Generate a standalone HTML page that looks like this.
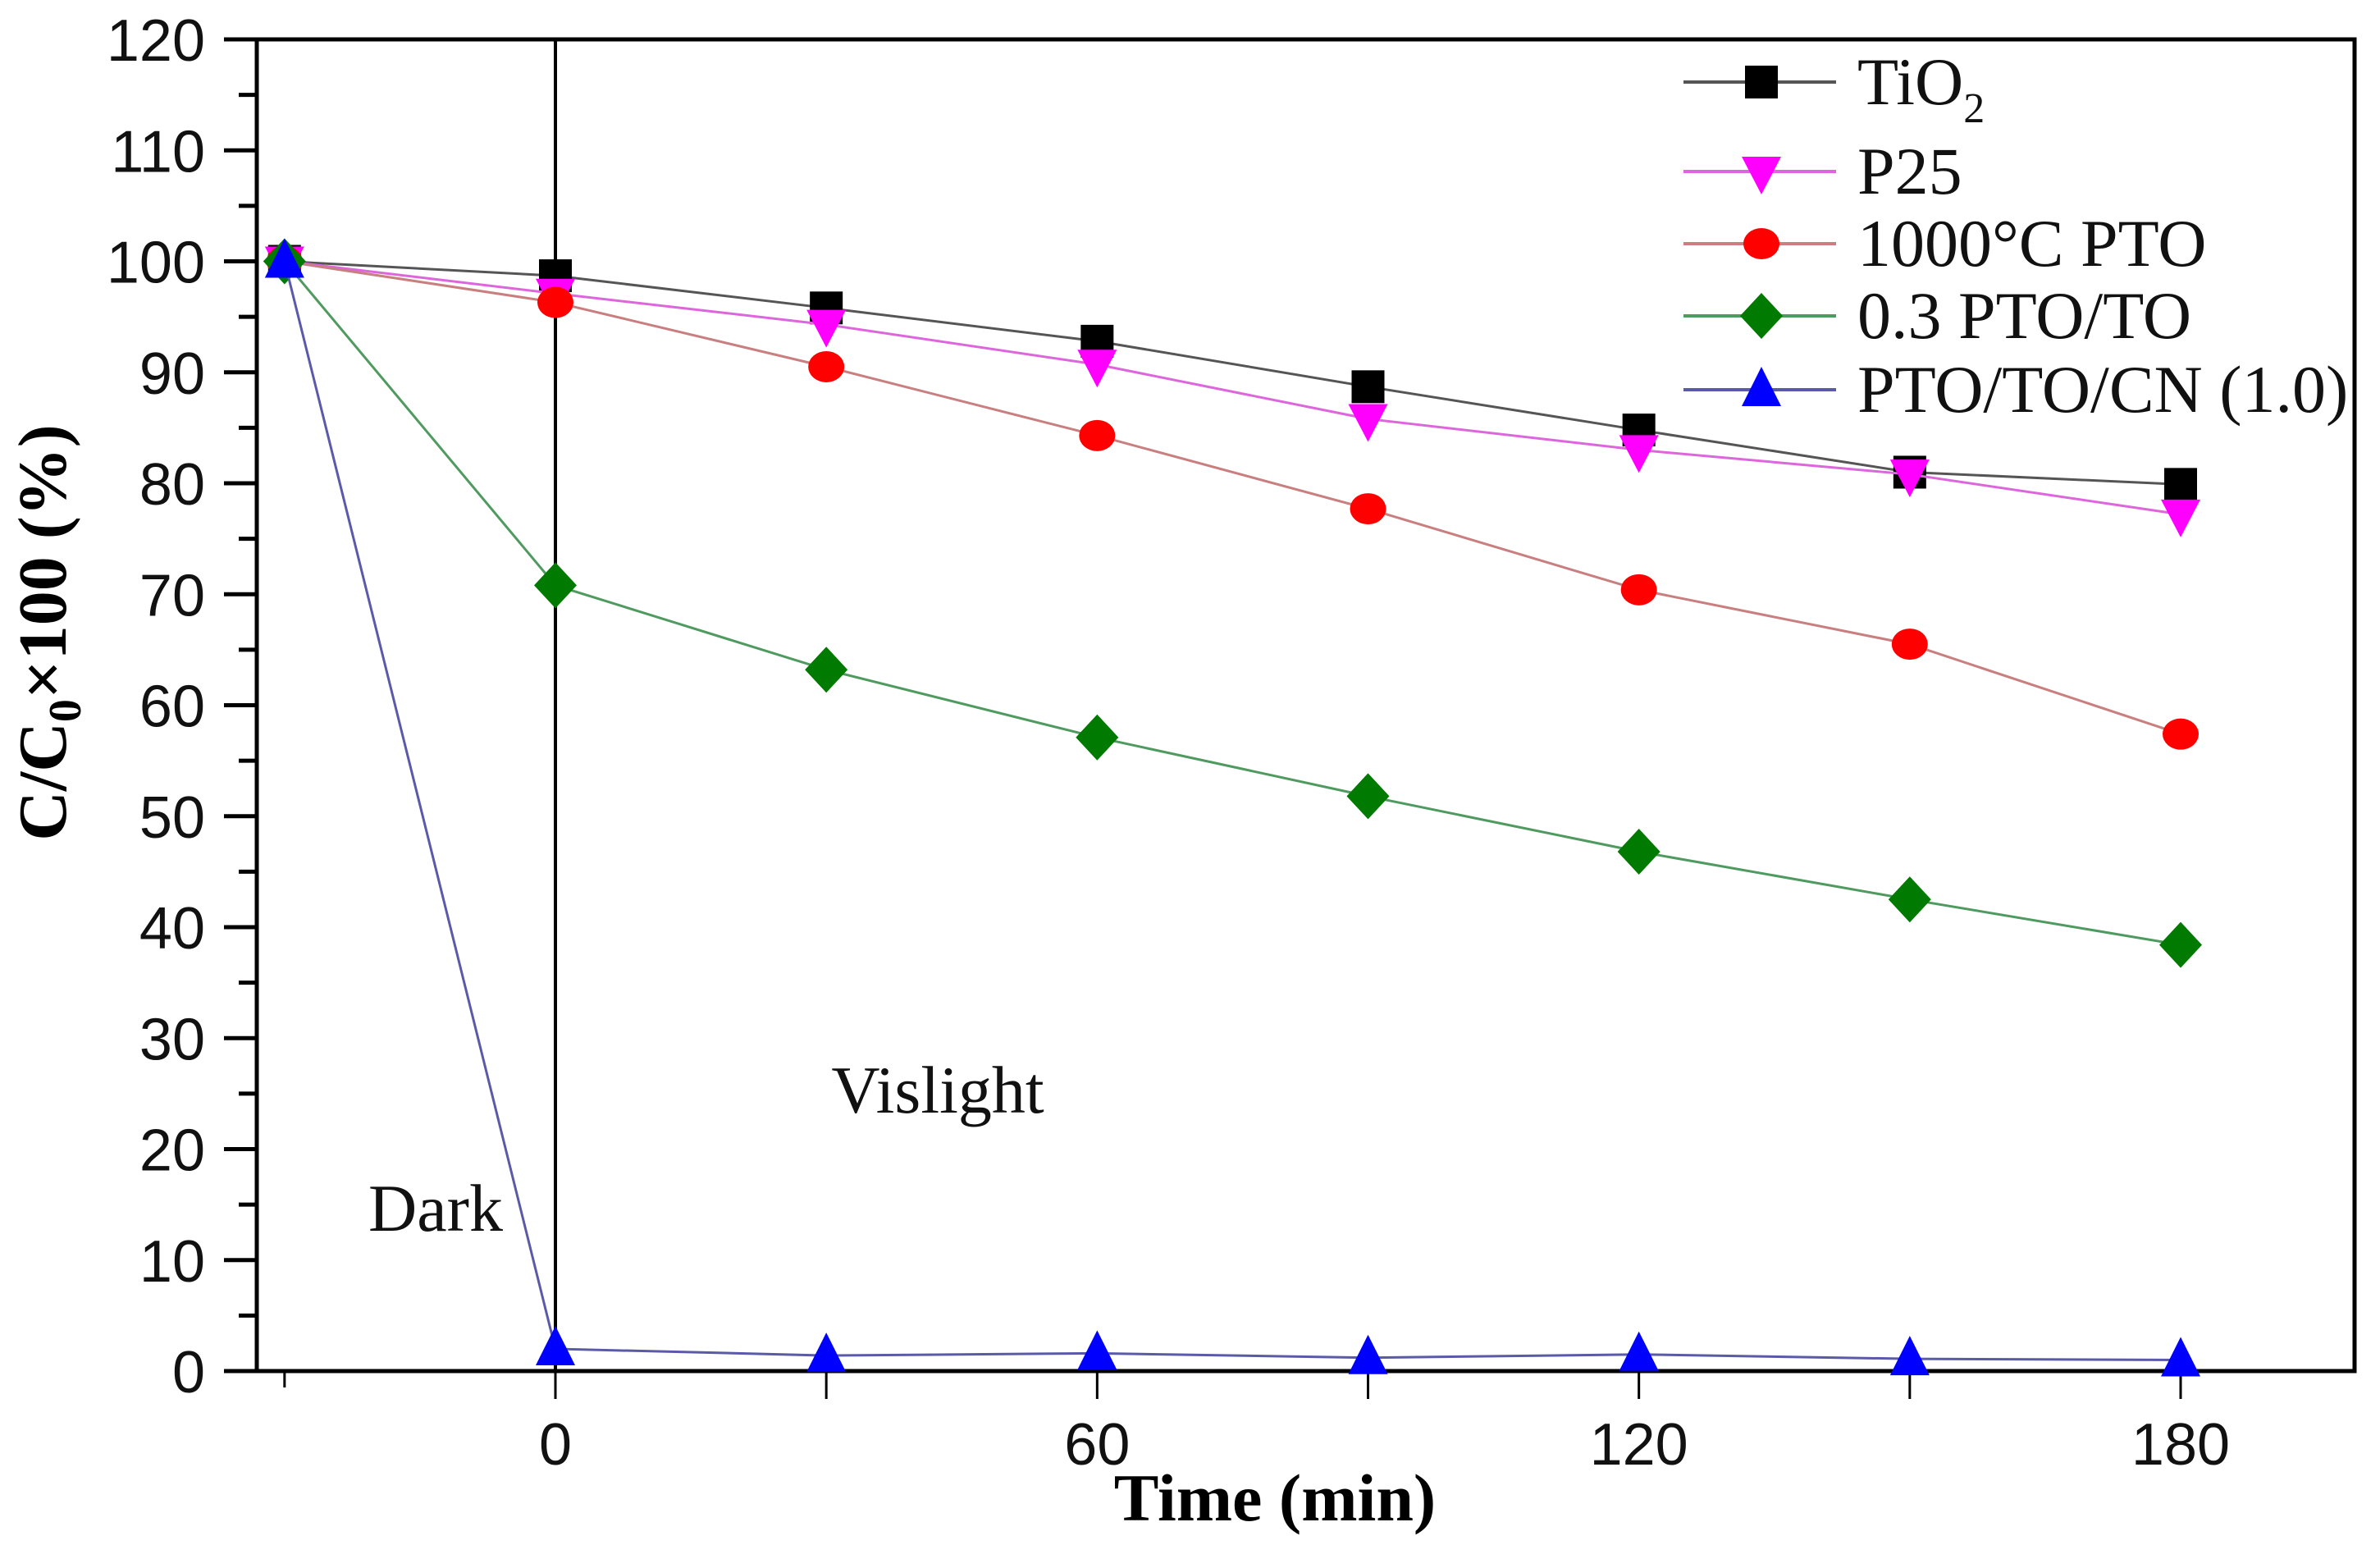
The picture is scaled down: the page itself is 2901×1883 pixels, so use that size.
<!DOCTYPE html>
<html><head><meta charset="utf-8"><style>
html,body{margin:0;padding:0;background:#fff;}
svg{display:block;}
</style></head><body>
<svg id="chart" width="2901" height="1883" viewBox="0 0 2901 1883" xmlns="http://www.w3.org/2000/svg">
<g id="grid"></g>
<g id="series"></g>
<g id="legend"></g>
</svg>
<script>
const times = [-30, 0, 30, 60, 90, 120, 150, 180];
const tio2 = [100, 98.7, 95.8, 92.8, 88.7, 84.8, 81.0, 79.9];
const p25 = [100, 97.1, 94.3, 90.7, 85.8, 83.0, 80.8, 77.2];
const pto1000 = [100, 96.3, 90.5, 84.3, 77.7, 70.4, 65.5, 57.4];
const ptoTo = [100, 70.8, 63.2, 57.1, 51.8, 46.8, 42.5, 38.4];
const ptoToCn = [100, 2.0, 1.4, 1.6, 1.2, 1.5, 1.1, 1.0];
const yTicks = [0, 10, 20, 30, 40, 50, 60, 70, 80, 90, 100, 110, 120];
const xTickLabels = [0, 60, 120, 180];
const xTicks = [-30, 0, 30, 60, 90, 120, 150, 180];
const seriesNames = ["TiO2", "P25", "1000°C PTO", "0.3 PTO/TO", "PTO/TO/CN (1.0)"];

const NS = "http://www.w3.org/2000/svg";
const L = 313, R = 2870, T = 48, B = 1671;
function xs(t){ return 677 + (t - 0) * (2658 - 677) / 180; }
function ys(v){ return B - v * (B - T) / 120; }
function mk(tag, attrs, parent){
  const e = document.createElementNS(NS, tag);
  for (const k in attrs) e.setAttribute(k, attrs[k]);
  parent.appendChild(e); return e;
}
const svg = document.getElementById('chart');
const grid = document.getElementById('grid');
const ser = document.getElementById('series');
const leg = document.getElementById('legend');

const frame = mk('rect', {x:L, y:T, width:R-L, height:B-T, fill:'none', stroke:'#000', 'stroke-width':5}, grid);


const div = mk('line', {x1:xs(0), y1:T, x2:xs(0), y2:B, stroke:'#000', 'stroke-width':4}, grid);



yTicks.forEach(v => {
  const y = ys(v);
  const t = mk('line', {x1:L-40, y1:y, x2:L, y2:y, stroke:'#000', 'stroke-width':5}, grid);
  
  
  if (v < 120) {
    const m = mk('line', {x1:L-22, y1:ys(v+5), x2:L, y2:ys(v+5), stroke:'#000', 'stroke-width':5}, grid);
    
    
  }
  const lb = mk('text', {x:250, y:y+26, 'text-anchor':'end', 'font-family':'Liberation Sans, sans-serif', 'font-size':72, fill:'#111'}, grid);
  lb.textContent = v;
  
  
});
xTicks.forEach(t => {
  const x = xs(t);
  const tk = mk('line', {x1:x, y1:B, x2:x, y2:B + (t < 0 ? 20 : 34), stroke:'#000', 'stroke-width':3}, grid);
  
  
});
xTickLabels.forEach(t => {
  const lb = mk('text', {x:xs(t), y:1785, 'text-anchor':'middle', 'font-family':'Liberation Sans, sans-serif', 'font-size':72, fill:'#111'}, grid);
  lb.textContent = t;
  
  
});
const xt = mk('text', {x:1554, y:1853, 'text-anchor':'middle', 'font-family':'Liberation Serif, serif', 'font-size':82, 'font-weight':'bold', fill:'#000'}, svg);
xt.textContent = 'Time (min)';


const yt = mk('text', {x:0, y:0, 'text-anchor':'middle', transform:'translate(80,771) rotate(-90)', 'font-family':'Liberation Serif, serif', 'font-size':84, 'font-weight':'bold', fill:'#000'}, svg);
yt.innerHTML = 'C/C<tspan font-size="56" dy="18">0</tspan><tspan dy="-18">×100 (%)</tspan>';


const dk = mk('text', {x:531, y:1500, 'text-anchor':'middle', 'font-family':'Liberation Serif, serif', 'font-size':82, fill:'#111'}, svg);
dk.textContent = 'Dark';


const vl = mk('text', {x:1143, y:1356, 'text-anchor':'middle', 'font-family':'Liberation Serif, serif', 'font-size':82, fill:'#111'}, svg);
vl.textContent = 'Vislight';



function marker(shape, cx, cy, color, parent){
  const s = 22;
  let e;
  if (shape === 'square') e = mk('rect', {x:cx-s+2, y:cy-s+2, width:2*s-4, height:2*s-4, fill:color}, parent);
  else if (shape === 'circle') e = mk('ellipse', {cx:cx, cy:cy, rx:s, ry:s-3, fill:color}, parent);
  else if (shape === 'down') e = mk('polygon', {points:`${cx-s-2},${cy-s+4} ${cx+s+2},${cy-s+4} ${cx},${cy+s+6}`, fill:color}, parent);
  else if (shape === 'up') e = mk('polygon', {points:`${cx-s-2},${cy+s-2} ${cx+s+2},${cy+s-2} ${cx},${cy-s-6}`, fill:color}, parent);
  else e = mk('polygon', {points:`${cx},${cy-s-6} ${cx+s+4},${cy} ${cx},${cy+s+6} ${cx-s-4},${cy}`, fill:color}, parent);
  return e;
}
const styles = [
  {data:tio2, line:'#555', mark:'#000', shape:'square', name:'tio2'},
  {data:p25, line:'#dd66dd', mark:'#ff00ff', shape:'down', name:'p25'},
  {data:pto1000, line:'#c97f7f', mark:'#ff0000', shape:'circle', name:'pto-1000c'},
  {data:ptoTo, line:'#4f9a5f', mark:'#007a00', shape:'diamond', name:'pto-to'},
  {data:ptoToCn, line:'#5a5aa8', mark:'#0000ff', shape:'up', name:'pto-to-cn'}
];
styles.forEach(st => {
  const g = mk('g', {}, ser);
  
  
  const pts = st.data.map((v,i) => xs(times[i]) + ',' + ys(v)).join(' ');
  const pl = mk('polyline', {points:pts, fill:'none', stroke:st.line, 'stroke-width':3}, g);
  
  
  st.data.forEach((v,i) => {
    const m = marker(st.shape, xs(times[i]), ys(v), st.mark, g);
    
    
  });
});
const legY = [100, 209, 297, 385, 475];
styles.forEach((st, i) => {
  const g = mk('g', {}, leg);
  
  
  mk('line', {x1:2052, y1:legY[i], x2:2238, y2:legY[i], stroke:st.line, 'stroke-width':4}, g);
  marker(st.shape, 2147, legY[i], st.mark, g);
  const tx = mk('text', {x:2264, y:legY[i]+27, 'font-family':'Liberation Serif, serif', 'font-size':82, fill:'#111'}, g);
  if (i === 0) tx.innerHTML = 'TiO<tspan font-size="52" dy="22">2</tspan>';
  else tx.textContent = seriesNames[i];
});
</script>
</body></html>
